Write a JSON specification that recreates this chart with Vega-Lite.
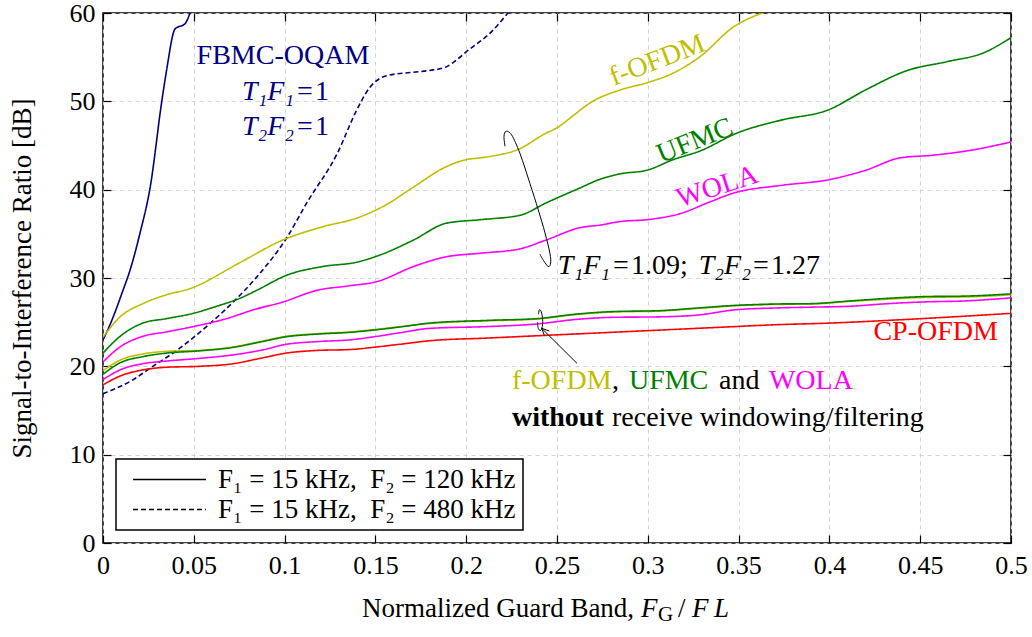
{
  "$schema": "https://vega.github.io/schema/vega-lite/v6.json",
  "width": 908,
  "height": 530,
  "autosize": {"type": "none"},
  "padding": {"left": 103, "top": 13, "right": 21, "bottom": 94},
  "background": "white",
  "config": {
    "font": "Liberation Serif, Times New Roman, serif",
    "view": {"stroke": "black", "strokeWidth": 1.5},
    "axis": {
      "labelFont": "Liberation Serif, Times New Roman, serif",
      "titleFont": "Liberation Serif, Times New Roman, serif",
      "labelColor": "black",
      "titleColor": "black",
      "tickColor": "black",
      "titleFontWeight": "normal",
      "domain": false
    },
    "text": {"font": "Liberation Serif, Times New Roman, serif", "fontSize": 28}
  },
  "datasets": {
    "curves": [
      {"waveform": "FBMC-OQAM", "receiver": "filtered", "config": "120 kHz", "gb": 0, "sir": 23.0},
      {"waveform": "FBMC-OQAM", "receiver": "filtered", "config": "120 kHz", "gb": 0.003, "sir": 24.3},
      {"waveform": "FBMC-OQAM", "receiver": "filtered", "config": "120 kHz", "gb": 0.011, "sir": 28.6},
      {"waveform": "FBMC-OQAM", "receiver": "filtered", "config": "120 kHz", "gb": 0.0149, "sir": 30.9},
      {"waveform": "FBMC-OQAM", "receiver": "filtered", "config": "120 kHz", "gb": 0.0204, "sir": 35.1},
      {"waveform": "FBMC-OQAM", "receiver": "filtered", "config": "120 kHz", "gb": 0.026, "sir": 40.3},
      {"waveform": "FBMC-OQAM", "receiver": "filtered", "config": "120 kHz", "gb": 0.0325, "sir": 50.2},
      {"waveform": "FBMC-OQAM", "receiver": "filtered", "config": "120 kHz", "gb": 0.035, "sir": 53.5},
      {"waveform": "FBMC-OQAM", "receiver": "filtered", "config": "120 kHz", "gb": 0.0397, "sir": 58.2},
      {"waveform": "FBMC-OQAM", "receiver": "filtered", "config": "120 kHz", "gb": 0.0452, "sir": 58.8},
      {"waveform": "FBMC-OQAM", "receiver": "filtered", "config": "120 kHz", "gb": 0.0479, "sir": 60.0},

      {"waveform": "FBMC-OQAM", "receiver": "filtered", "config": "480 kHz", "gb": 0, "sir": 16.9},
      {"waveform": "FBMC-OQAM", "receiver": "filtered", "config": "480 kHz", "gb": 0.0167, "sir": 18.5},
      {"waveform": "FBMC-OQAM", "receiver": "filtered", "config": "480 kHz", "gb": 0.026, "sir": 19.8},
      {"waveform": "FBMC-OQAM", "receiver": "filtered", "config": "480 kHz", "gb": 0.0406, "sir": 21.8},
      {"waveform": "FBMC-OQAM", "receiver": "filtered", "config": "480 kHz", "gb": 0.057, "sir": 24.5},
      {"waveform": "FBMC-OQAM", "receiver": "filtered", "config": "480 kHz", "gb": 0.0718, "sir": 27.3},
      {"waveform": "FBMC-OQAM", "receiver": "filtered", "config": "480 kHz", "gb": 0.0846, "sir": 30.1},
      {"waveform": "FBMC-OQAM", "receiver": "filtered", "config": "480 kHz", "gb": 0.101, "sir": 34.5},
      {"waveform": "FBMC-OQAM", "receiver": "filtered", "config": "480 kHz", "gb": 0.1122, "sir": 38.5},
      {"waveform": "FBMC-OQAM", "receiver": "filtered", "config": "480 kHz", "gb": 0.129, "sir": 44.1},
      {"waveform": "FBMC-OQAM", "receiver": "filtered", "config": "480 kHz", "gb": 0.1397, "sir": 49.0},
      {"waveform": "FBMC-OQAM", "receiver": "filtered", "config": "480 kHz", "gb": 0.147, "sir": 51.6},
      {"waveform": "FBMC-OQAM", "receiver": "filtered", "config": "480 kHz", "gb": 0.1525, "sir": 52.6},
      {"waveform": "FBMC-OQAM", "receiver": "filtered", "config": "480 kHz", "gb": 0.156, "sir": 52.9},
      {"waveform": "FBMC-OQAM", "receiver": "filtered", "config": "480 kHz", "gb": 0.171, "sir": 53.3},
      {"waveform": "FBMC-OQAM", "receiver": "filtered", "config": "480 kHz", "gb": 0.18, "sir": 53.5},
      {"waveform": "FBMC-OQAM", "receiver": "filtered", "config": "480 kHz", "gb": 0.189, "sir": 53.9},
      {"waveform": "FBMC-OQAM", "receiver": "filtered", "config": "480 kHz", "gb": 0.1948, "sir": 54.7},
      {"waveform": "FBMC-OQAM", "receiver": "filtered", "config": "480 kHz", "gb": 0.2, "sir": 55.6},
      {"waveform": "FBMC-OQAM", "receiver": "filtered", "config": "480 kHz", "gb": 0.213, "sir": 57.7},
      {"waveform": "FBMC-OQAM", "receiver": "filtered", "config": "480 kHz", "gb": 0.223, "sir": 60.0},

      {"waveform": "f-OFDM", "receiver": "filtered", "config": "120 kHz", "gb": 0, "sir": 23.3},
      {"waveform": "f-OFDM", "receiver": "filtered", "config": "120 kHz", "gb": 0.0094, "sir": 25.6},
      {"waveform": "f-OFDM", "receiver": "filtered", "config": "120 kHz", "gb": 0.022, "sir": 27.1},
      {"waveform": "f-OFDM", "receiver": "filtered", "config": "120 kHz", "gb": 0.035, "sir": 28.1},
      {"waveform": "f-OFDM", "receiver": "filtered", "config": "120 kHz", "gb": 0.048, "sir": 28.8},
      {"waveform": "f-OFDM", "receiver": "filtered", "config": "120 kHz", "gb": 0.075, "sir": 31.7},
      {"waveform": "f-OFDM", "receiver": "filtered", "config": "120 kHz", "gb": 0.099, "sir": 34.3},
      {"waveform": "f-OFDM", "receiver": "filtered", "config": "120 kHz", "gb": 0.121, "sir": 35.8},
      {"waveform": "f-OFDM", "receiver": "filtered", "config": "120 kHz", "gb": 0.14, "sir": 36.8},
      {"waveform": "f-OFDM", "receiver": "filtered", "config": "120 kHz", "gb": 0.156, "sir": 38.3},
      {"waveform": "f-OFDM", "receiver": "filtered", "config": "120 kHz", "gb": 0.171, "sir": 40.3},
      {"waveform": "f-OFDM", "receiver": "filtered", "config": "120 kHz", "gb": 0.189, "sir": 42.6},
      {"waveform": "f-OFDM", "receiver": "filtered", "config": "120 kHz", "gb": 0.2, "sir": 43.4},
      {"waveform": "f-OFDM", "receiver": "filtered", "config": "120 kHz", "gb": 0.2076, "sir": 43.6},
      {"waveform": "f-OFDM", "receiver": "filtered", "config": "120 kHz", "gb": 0.217, "sir": 43.9},
      {"waveform": "f-OFDM", "receiver": "filtered", "config": "120 kHz", "gb": 0.228, "sir": 44.5},
      {"waveform": "f-OFDM", "receiver": "filtered", "config": "120 kHz", "gb": 0.244, "sir": 46.4},
      {"waveform": "f-OFDM", "receiver": "filtered", "config": "120 kHz", "gb": 0.25, "sir": 47.0},
      {"waveform": "f-OFDM", "receiver": "filtered", "config": "120 kHz", "gb": 0.259, "sir": 48.4},
      {"waveform": "f-OFDM", "receiver": "filtered", "config": "120 kHz", "gb": 0.268, "sir": 49.8},
      {"waveform": "f-OFDM", "receiver": "filtered", "config": "120 kHz", "gb": 0.285, "sir": 51.3},
      {"waveform": "f-OFDM", "receiver": "filtered", "config": "120 kHz", "gb": 0.2995, "sir": 52.1},
      {"waveform": "f-OFDM", "receiver": "filtered", "config": "120 kHz", "gb": 0.314, "sir": 53.2},
      {"waveform": "f-OFDM", "receiver": "filtered", "config": "120 kHz", "gb": 0.329, "sir": 55.1},
      {"waveform": "f-OFDM", "receiver": "filtered", "config": "120 kHz", "gb": 0.347, "sir": 58.4},
      {"waveform": "f-OFDM", "receiver": "filtered", "config": "120 kHz", "gb": 0.363, "sir": 60.0},

      {"waveform": "UFMC", "receiver": "filtered", "config": "120 kHz", "gb": 0, "sir": 21.5},
      {"waveform": "UFMC", "receiver": "filtered", "config": "120 kHz", "gb": 0.0094, "sir": 23.4},
      {"waveform": "UFMC", "receiver": "filtered", "config": "120 kHz", "gb": 0.022, "sir": 24.9},
      {"waveform": "UFMC", "receiver": "filtered", "config": "120 kHz", "gb": 0.035, "sir": 25.4},
      {"waveform": "UFMC", "receiver": "filtered", "config": "120 kHz", "gb": 0.0497, "sir": 26.0},
      {"waveform": "UFMC", "receiver": "filtered", "config": "120 kHz", "gb": 0.0626, "sir": 26.8},
      {"waveform": "UFMC", "receiver": "filtered", "config": "120 kHz", "gb": 0.0754, "sir": 27.7},
      {"waveform": "UFMC", "receiver": "filtered", "config": "120 kHz", "gb": 0.0846, "sir": 28.6},
      {"waveform": "UFMC", "receiver": "filtered", "config": "120 kHz", "gb": 0.101, "sir": 30.3},
      {"waveform": "UFMC", "receiver": "filtered", "config": "120 kHz", "gb": 0.121, "sir": 31.3},
      {"waveform": "UFMC", "receiver": "filtered", "config": "120 kHz", "gb": 0.14, "sir": 31.8},
      {"waveform": "UFMC", "receiver": "filtered", "config": "120 kHz", "gb": 0.1525, "sir": 32.6},
      {"waveform": "UFMC", "receiver": "filtered", "config": "120 kHz", "gb": 0.171, "sir": 34.3},
      {"waveform": "UFMC", "receiver": "filtered", "config": "120 kHz", "gb": 0.189, "sir": 36.2},
      {"waveform": "UFMC", "receiver": "filtered", "config": "120 kHz", "gb": 0.2076, "sir": 36.6},
      {"waveform": "UFMC", "receiver": "filtered", "config": "120 kHz", "gb": 0.2296, "sir": 37.1},
      {"waveform": "UFMC", "receiver": "filtered", "config": "120 kHz", "gb": 0.244, "sir": 38.5},
      {"waveform": "UFMC", "receiver": "filtered", "config": "120 kHz", "gb": 0.2627, "sir": 40.2},
      {"waveform": "UFMC", "receiver": "filtered", "config": "120 kHz", "gb": 0.274, "sir": 41.2},
      {"waveform": "UFMC", "receiver": "filtered", "config": "120 kHz", "gb": 0.285, "sir": 41.8},
      {"waveform": "UFMC", "receiver": "filtered", "config": "120 kHz", "gb": 0.2995, "sir": 42.2},
      {"waveform": "UFMC", "receiver": "filtered", "config": "120 kHz", "gb": 0.314, "sir": 43.4},
      {"waveform": "UFMC", "receiver": "filtered", "config": "120 kHz", "gb": 0.329, "sir": 44.4},
      {"waveform": "UFMC", "receiver": "filtered", "config": "120 kHz", "gb": 0.349, "sir": 46.4},
      {"waveform": "UFMC", "receiver": "filtered", "config": "120 kHz", "gb": 0.374, "sir": 47.9},
      {"waveform": "UFMC", "receiver": "filtered", "config": "120 kHz", "gb": 0.399, "sir": 49.0},
      {"waveform": "UFMC", "receiver": "filtered", "config": "120 kHz", "gb": 0.42, "sir": 51.3},
      {"waveform": "UFMC", "receiver": "filtered", "config": "120 kHz", "gb": 0.443, "sir": 53.5},
      {"waveform": "UFMC", "receiver": "filtered", "config": "120 kHz", "gb": 0.465, "sir": 54.5},
      {"waveform": "UFMC", "receiver": "filtered", "config": "120 kHz", "gb": 0.485, "sir": 55.5},
      {"waveform": "UFMC", "receiver": "filtered", "config": "120 kHz", "gb": 0.5, "sir": 57.2},

      {"waveform": "WOLA", "receiver": "filtered", "config": "120 kHz", "gb": 0, "sir": 20.5},
      {"waveform": "WOLA", "receiver": "filtered", "config": "120 kHz", "gb": 0.0094, "sir": 22.2},
      {"waveform": "WOLA", "receiver": "filtered", "config": "120 kHz", "gb": 0.022, "sir": 23.4},
      {"waveform": "WOLA", "receiver": "filtered", "config": "120 kHz", "gb": 0.035, "sir": 23.9},
      {"waveform": "WOLA", "receiver": "filtered", "config": "120 kHz", "gb": 0.0497, "sir": 24.5},
      {"waveform": "WOLA", "receiver": "filtered", "config": "120 kHz", "gb": 0.068, "sir": 25.4},
      {"waveform": "WOLA", "receiver": "filtered", "config": "120 kHz", "gb": 0.0828, "sir": 26.4},
      {"waveform": "WOLA", "receiver": "filtered", "config": "120 kHz", "gb": 0.0993, "sir": 27.3},
      {"waveform": "WOLA", "receiver": "filtered", "config": "120 kHz", "gb": 0.1177, "sir": 28.6},
      {"waveform": "WOLA", "receiver": "filtered", "config": "120 kHz", "gb": 0.135, "sir": 29.1},
      {"waveform": "WOLA", "receiver": "filtered", "config": "120 kHz", "gb": 0.151, "sir": 29.6},
      {"waveform": "WOLA", "receiver": "filtered", "config": "120 kHz", "gb": 0.171, "sir": 31.3},
      {"waveform": "WOLA", "receiver": "filtered", "config": "120 kHz", "gb": 0.189, "sir": 32.4},
      {"waveform": "WOLA", "receiver": "filtered", "config": "120 kHz", "gb": 0.2076, "sir": 32.8},
      {"waveform": "WOLA", "receiver": "filtered", "config": "120 kHz", "gb": 0.2296, "sir": 33.3},
      {"waveform": "WOLA", "receiver": "filtered", "config": "120 kHz", "gb": 0.244, "sir": 34.3},
      {"waveform": "WOLA", "receiver": "filtered", "config": "120 kHz", "gb": 0.2627, "sir": 35.7},
      {"waveform": "WOLA", "receiver": "filtered", "config": "120 kHz", "gb": 0.274, "sir": 36.0},
      {"waveform": "WOLA", "receiver": "filtered", "config": "120 kHz", "gb": 0.285, "sir": 36.4},
      {"waveform": "WOLA", "receiver": "filtered", "config": "120 kHz", "gb": 0.2995, "sir": 36.6},
      {"waveform": "WOLA", "receiver": "filtered", "config": "120 kHz", "gb": 0.318, "sir": 37.3},
      {"waveform": "WOLA", "receiver": "filtered", "config": "120 kHz", "gb": 0.334, "sir": 38.6},
      {"waveform": "WOLA", "receiver": "filtered", "config": "120 kHz", "gb": 0.347, "sir": 39.6},
      {"waveform": "WOLA", "receiver": "filtered", "config": "120 kHz", "gb": 0.374, "sir": 40.5},
      {"waveform": "WOLA", "receiver": "filtered", "config": "120 kHz", "gb": 0.399, "sir": 41.1},
      {"waveform": "WOLA", "receiver": "filtered", "config": "120 kHz", "gb": 0.42, "sir": 42.2},
      {"waveform": "WOLA", "receiver": "filtered", "config": "120 kHz", "gb": 0.439, "sir": 43.6},
      {"waveform": "WOLA", "receiver": "filtered", "config": "120 kHz", "gb": 0.457, "sir": 43.9},
      {"waveform": "WOLA", "receiver": "filtered", "config": "120 kHz", "gb": 0.479, "sir": 44.5},
      {"waveform": "WOLA", "receiver": "filtered", "config": "120 kHz", "gb": 0.5, "sir": 45.4},

      {"waveform": "f-OFDM", "receiver": "plain", "config": "120 kHz", "gb": 0, "sir": 19.5},
      {"waveform": "f-OFDM", "receiver": "plain", "config": "120 kHz", "gb": 0.0094, "sir": 20.7},
      {"waveform": "f-OFDM", "receiver": "plain", "config": "120 kHz", "gb": 0.022, "sir": 21.4},
      {"waveform": "f-OFDM", "receiver": "plain", "config": "120 kHz", "gb": 0.035, "sir": 21.7},
      {"waveform": "f-OFDM", "receiver": "plain", "config": "120 kHz", "gb": 0.053, "sir": 21.8},
      {"waveform": "f-OFDM", "receiver": "plain", "config": "120 kHz", "gb": 0.0718, "sir": 22.2},
      {"waveform": "f-OFDM", "receiver": "plain", "config": "120 kHz", "gb": 0.0865, "sir": 22.8},
      {"waveform": "f-OFDM", "receiver": "plain", "config": "120 kHz", "gb": 0.101, "sir": 23.4},
      {"waveform": "f-OFDM", "receiver": "plain", "config": "120 kHz", "gb": 0.118, "sir": 23.7},
      {"waveform": "f-OFDM", "receiver": "plain", "config": "120 kHz", "gb": 0.136, "sir": 23.9},
      {"waveform": "f-OFDM", "receiver": "plain", "config": "120 kHz", "gb": 0.151, "sir": 24.2},
      {"waveform": "f-OFDM", "receiver": "plain", "config": "120 kHz", "gb": 0.1635, "sir": 24.5},
      {"waveform": "f-OFDM", "receiver": "plain", "config": "120 kHz", "gb": 0.18, "sir": 24.85},
      {"waveform": "f-OFDM", "receiver": "plain", "config": "120 kHz", "gb": 0.2116, "sir": 25.15},
      {"waveform": "f-OFDM", "receiver": "plain", "config": "120 kHz", "gb": 0.2389, "sir": 25.35},
      {"waveform": "f-OFDM", "receiver": "plain", "config": "120 kHz", "gb": 0.26, "sir": 25.85},
      {"waveform": "f-OFDM", "receiver": "plain", "config": "120 kHz", "gb": 0.281, "sir": 26.15},
      {"waveform": "f-OFDM", "receiver": "plain", "config": "120 kHz", "gb": 0.3062, "sir": 26.25},
      {"waveform": "f-OFDM", "receiver": "plain", "config": "120 kHz", "gb": 0.3272, "sir": 26.55},
      {"waveform": "f-OFDM", "receiver": "plain", "config": "120 kHz", "gb": 0.3482, "sir": 26.85},
      {"waveform": "f-OFDM", "receiver": "plain", "config": "120 kHz", "gb": 0.3692, "sir": 27.0},
      {"waveform": "f-OFDM", "receiver": "plain", "config": "120 kHz", "gb": 0.3902, "sir": 27.05},
      {"waveform": "f-OFDM", "receiver": "plain", "config": "120 kHz", "gb": 0.4112, "sir": 27.35},
      {"waveform": "f-OFDM", "receiver": "plain", "config": "120 kHz", "gb": 0.4323, "sir": 27.6},
      {"waveform": "f-OFDM", "receiver": "plain", "config": "120 kHz", "gb": 0.4533, "sir": 27.8},
      {"waveform": "f-OFDM", "receiver": "plain", "config": "120 kHz", "gb": 0.4743, "sir": 27.85},
      {"waveform": "f-OFDM", "receiver": "plain", "config": "120 kHz", "gb": 0.5, "sir": 28.1},

      {"waveform": "UFMC", "receiver": "plain", "config": "120 kHz", "gb": 0, "sir": 19.1},
      {"waveform": "UFMC", "receiver": "plain", "config": "120 kHz", "gb": 0.0094, "sir": 20.4},
      {"waveform": "UFMC", "receiver": "plain", "config": "120 kHz", "gb": 0.022, "sir": 21.1},
      {"waveform": "UFMC", "receiver": "plain", "config": "120 kHz", "gb": 0.035, "sir": 21.5},
      {"waveform": "UFMC", "receiver": "plain", "config": "120 kHz", "gb": 0.053, "sir": 21.75},
      {"waveform": "UFMC", "receiver": "plain", "config": "120 kHz", "gb": 0.0718, "sir": 22.15},
      {"waveform": "UFMC", "receiver": "plain", "config": "120 kHz", "gb": 0.0865, "sir": 22.75},
      {"waveform": "UFMC", "receiver": "plain", "config": "120 kHz", "gb": 0.101, "sir": 23.35},
      {"waveform": "UFMC", "receiver": "plain", "config": "120 kHz", "gb": 0.118, "sir": 23.65},
      {"waveform": "UFMC", "receiver": "plain", "config": "120 kHz", "gb": 0.136, "sir": 23.85},
      {"waveform": "UFMC", "receiver": "plain", "config": "120 kHz", "gb": 0.151, "sir": 24.15},
      {"waveform": "UFMC", "receiver": "plain", "config": "120 kHz", "gb": 0.1635, "sir": 24.45},
      {"waveform": "UFMC", "receiver": "plain", "config": "120 kHz", "gb": 0.18, "sir": 24.9},
      {"waveform": "UFMC", "receiver": "plain", "config": "120 kHz", "gb": 0.2116, "sir": 25.2},
      {"waveform": "UFMC", "receiver": "plain", "config": "120 kHz", "gb": 0.2389, "sir": 25.4},
      {"waveform": "UFMC", "receiver": "plain", "config": "120 kHz", "gb": 0.26, "sir": 25.9},
      {"waveform": "UFMC", "receiver": "plain", "config": "120 kHz", "gb": 0.281, "sir": 26.2},
      {"waveform": "UFMC", "receiver": "plain", "config": "120 kHz", "gb": 0.3062, "sir": 26.3},
      {"waveform": "UFMC", "receiver": "plain", "config": "120 kHz", "gb": 0.3272, "sir": 26.6},
      {"waveform": "UFMC", "receiver": "plain", "config": "120 kHz", "gb": 0.3482, "sir": 26.9},
      {"waveform": "UFMC", "receiver": "plain", "config": "120 kHz", "gb": 0.3692, "sir": 27.05},
      {"waveform": "UFMC", "receiver": "plain", "config": "120 kHz", "gb": 0.3902, "sir": 27.1},
      {"waveform": "UFMC", "receiver": "plain", "config": "120 kHz", "gb": 0.4112, "sir": 27.4},
      {"waveform": "UFMC", "receiver": "plain", "config": "120 kHz", "gb": 0.4323, "sir": 27.7},
      {"waveform": "UFMC", "receiver": "plain", "config": "120 kHz", "gb": 0.4533, "sir": 27.9},
      {"waveform": "UFMC", "receiver": "plain", "config": "120 kHz", "gb": 0.4743, "sir": 27.95},
      {"waveform": "UFMC", "receiver": "plain", "config": "120 kHz", "gb": 0.5, "sir": 28.2},

      {"waveform": "WOLA", "receiver": "plain", "config": "120 kHz", "gb": 0, "sir": 18.5},
      {"waveform": "WOLA", "receiver": "plain", "config": "120 kHz", "gb": 0.0094, "sir": 19.6},
      {"waveform": "WOLA", "receiver": "plain", "config": "120 kHz", "gb": 0.022, "sir": 20.3},
      {"waveform": "WOLA", "receiver": "plain", "config": "120 kHz", "gb": 0.035, "sir": 20.6},
      {"waveform": "WOLA", "receiver": "plain", "config": "120 kHz", "gb": 0.053, "sir": 20.9},
      {"waveform": "WOLA", "receiver": "plain", "config": "120 kHz", "gb": 0.0718, "sir": 21.3},
      {"waveform": "WOLA", "receiver": "plain", "config": "120 kHz", "gb": 0.0865, "sir": 21.8},
      {"waveform": "WOLA", "receiver": "plain", "config": "120 kHz", "gb": 0.101, "sir": 22.5},
      {"waveform": "WOLA", "receiver": "plain", "config": "120 kHz", "gb": 0.118, "sir": 22.8},
      {"waveform": "WOLA", "receiver": "plain", "config": "120 kHz", "gb": 0.136, "sir": 23.0},
      {"waveform": "WOLA", "receiver": "plain", "config": "120 kHz", "gb": 0.151, "sir": 23.4},
      {"waveform": "WOLA", "receiver": "plain", "config": "120 kHz", "gb": 0.1635, "sir": 23.8},
      {"waveform": "WOLA", "receiver": "plain", "config": "120 kHz", "gb": 0.18, "sir": 24.3},
      {"waveform": "WOLA", "receiver": "plain", "config": "120 kHz", "gb": 0.2116, "sir": 24.5},
      {"waveform": "WOLA", "receiver": "plain", "config": "120 kHz", "gb": 0.2389, "sir": 24.8},
      {"waveform": "WOLA", "receiver": "plain", "config": "120 kHz", "gb": 0.26, "sir": 25.3},
      {"waveform": "WOLA", "receiver": "plain", "config": "120 kHz", "gb": 0.281, "sir": 25.55},
      {"waveform": "WOLA", "receiver": "plain", "config": "120 kHz", "gb": 0.3062, "sir": 25.6},
      {"waveform": "WOLA", "receiver": "plain", "config": "120 kHz", "gb": 0.3272, "sir": 25.8},
      {"waveform": "WOLA", "receiver": "plain", "config": "120 kHz", "gb": 0.3482, "sir": 26.4},
      {"waveform": "WOLA", "receiver": "plain", "config": "120 kHz", "gb": 0.3692, "sir": 26.6},
      {"waveform": "WOLA", "receiver": "plain", "config": "120 kHz", "gb": 0.3902, "sir": 26.7},
      {"waveform": "WOLA", "receiver": "plain", "config": "120 kHz", "gb": 0.4112, "sir": 26.8},
      {"waveform": "WOLA", "receiver": "plain", "config": "120 kHz", "gb": 0.4323, "sir": 27.1},
      {"waveform": "WOLA", "receiver": "plain", "config": "120 kHz", "gb": 0.4533, "sir": 27.3},
      {"waveform": "WOLA", "receiver": "plain", "config": "120 kHz", "gb": 0.4743, "sir": 27.4},
      {"waveform": "WOLA", "receiver": "plain", "config": "120 kHz", "gb": 0.5, "sir": 27.75},

      {"waveform": "CP-OFDM", "receiver": "plain", "config": "120 kHz", "gb": 0, "sir": 17.9},
      {"waveform": "CP-OFDM", "receiver": "plain", "config": "120 kHz", "gb": 0.0094, "sir": 18.9},
      {"waveform": "CP-OFDM", "receiver": "plain", "config": "120 kHz", "gb": 0.022, "sir": 19.6},
      {"waveform": "CP-OFDM", "receiver": "plain", "config": "120 kHz", "gb": 0.035, "sir": 19.9},
      {"waveform": "CP-OFDM", "receiver": "plain", "config": "120 kHz", "gb": 0.053, "sir": 20.0},
      {"waveform": "CP-OFDM", "receiver": "plain", "config": "120 kHz", "gb": 0.0718, "sir": 20.3},
      {"waveform": "CP-OFDM", "receiver": "plain", "config": "120 kHz", "gb": 0.0865, "sir": 20.9},
      {"waveform": "CP-OFDM", "receiver": "plain", "config": "120 kHz", "gb": 0.101, "sir": 21.5},
      {"waveform": "CP-OFDM", "receiver": "plain", "config": "120 kHz", "gb": 0.118, "sir": 21.8},
      {"waveform": "CP-OFDM", "receiver": "plain", "config": "120 kHz", "gb": 0.136, "sir": 21.9},
      {"waveform": "CP-OFDM", "receiver": "plain", "config": "120 kHz", "gb": 0.151, "sir": 22.2},
      {"waveform": "CP-OFDM", "receiver": "plain", "config": "120 kHz", "gb": 0.1635, "sir": 22.5},
      {"waveform": "CP-OFDM", "receiver": "plain", "config": "120 kHz", "gb": 0.18, "sir": 22.9},
      {"waveform": "CP-OFDM", "receiver": "plain", "config": "120 kHz", "gb": 0.2116, "sir": 23.2},
      {"waveform": "CP-OFDM", "receiver": "plain", "config": "120 kHz", "gb": 0.2431, "sir": 23.5},
      {"waveform": "CP-OFDM", "receiver": "plain", "config": "120 kHz", "gb": 0.2747, "sir": 23.8},
      {"waveform": "CP-OFDM", "receiver": "plain", "config": "120 kHz", "gb": 0.3062, "sir": 24.1},
      {"waveform": "CP-OFDM", "receiver": "plain", "config": "120 kHz", "gb": 0.3377, "sir": 24.4},
      {"waveform": "CP-OFDM", "receiver": "plain", "config": "120 kHz", "gb": 0.3692, "sir": 24.7},
      {"waveform": "CP-OFDM", "receiver": "plain", "config": "120 kHz", "gb": 0.4008, "sir": 24.9},
      {"waveform": "CP-OFDM", "receiver": "plain", "config": "120 kHz", "gb": 0.4323, "sir": 25.2},
      {"waveform": "CP-OFDM", "receiver": "plain", "config": "120 kHz", "gb": 0.4638, "sir": 25.55},
      {"waveform": "CP-OFDM", "receiver": "plain", "config": "120 kHz", "gb": 0.5, "sir": 26.0}
    ],
    "shapes": [
      {"part": "ring", "i": 1, "gb": 0.2214, "sir": 44.9},
      {"part": "ring", "i": 2, "gb": 0.2208, "sir": 46.0},
      {"part": "ring", "i": 3, "gb": 0.2219, "sir": 46.6},
      {"part": "ring", "i": 4, "gb": 0.225, "sir": 46.2},
      {"part": "ring", "i": 5, "gb": 0.2296, "sir": 44.1},
      {"part": "ring", "i": 6, "gb": 0.2351, "sir": 40.7},
      {"part": "ring", "i": 7, "gb": 0.2397, "sir": 37.7},
      {"part": "ring", "i": 8, "gb": 0.2434, "sir": 35.1},
      {"part": "ring", "i": 9, "gb": 0.2461, "sir": 32.8},
      {"part": "ring", "i": 10, "gb": 0.2465, "sir": 31.7},
      {"part": "ring", "i": 11, "gb": 0.2452, "sir": 31.3},
      {"part": "ring", "i": 12, "gb": 0.2425, "sir": 32.0},
      {"part": "ring", "i": 13, "gb": 0.2406, "sir": 32.7},
      {"part": "ring2", "i": 1, "gb": 0.2398, "sir": 25.9},
      {"part": "ring2", "i": 2, "gb": 0.2403, "sir": 26.4},
      {"part": "ring2", "i": 3, "gb": 0.2413, "sir": 26.2},
      {"part": "ring2", "i": 4, "gb": 0.2421, "sir": 25.3},
      {"part": "ring2", "i": 5, "gb": 0.2419, "sir": 24.5},
      {"part": "ring2", "i": 6, "gb": 0.2409, "sir": 24.05},
      {"part": "ring2", "i": 7, "gb": 0.2397, "sir": 24.3},
      {"part": "ring2", "i": 8, "gb": 0.2392, "sir": 25.0},
      {"part": "shaft", "i": 1, "gb": 0.261, "sir": 20.34},
      {"part": "shaft", "i": 2, "gb": 0.2416, "sir": 24.3},
      {"part": "head", "i": 1, "gb": 0.2431, "sir": 23.45},
      {"part": "head", "i": 2, "gb": 0.2416, "sir": 24.3},
      {"part": "head", "i": 3, "gb": 0.2458, "sir": 24.0}
    ],
    "centerLabels": [
      {"label": "FBMC-OQAM", "waveform": "FBMC-OQAM", "gb": 0.0991, "sir": 55.15},
      {"label": "CP-OFDM", "waveform": "CP-OFDM", "gb": 0.4585, "sir": 23.9}
    ],
    "slopedLabels": [
      {"label": "f-OFDM", "waveform": "f-OFDM", "gb": 0.3053, "sir": 54.6},
      {"label": "UFMC", "waveform": "UFMC", "gb": 0.326, "sir": 45.5},
      {"label": "WOLA", "waveform": "WOLA", "gb": 0.3383, "sir": 40.3}
    ],
    "mathItalic": [
      {"label": "T₁F₁", "waveform": "FBMC-OQAM", "gb": 0.1052, "sir": 51.05},
      {"label": "T₂F₂", "waveform": "FBMC-OQAM", "gb": 0.1052, "sir": 47.1},
      {"label": "T₁F₁", "waveform": "note", "gb": 0.2792, "sir": 31.4},
      {"label": "T₂F₂", "waveform": "note", "gb": 0.3568, "sir": 31.4}
    ],
    "mathUpright": [
      {"label": "=\u200a1", "waveform": "FBMC-OQAM", "gb": 0.1068, "sir": 51.05},
      {"label": "=\u200a1", "waveform": "FBMC-OQAM", "gb": 0.1068, "sir": 47.1},
      {"label": "=\u200a1.09;", "waveform": "note", "gb": 0.2808, "sir": 31.4},
      {"label": "=\u200a1.27", "waveform": "note", "gb": 0.3579, "sir": 31.4}
    ],
    "noteText": [
      {"label": "f-OFDM", "waveform": "f-OFDM", "gb": 0.2252, "sir": 18.3},
      {"label": ",", "waveform": "note", "gb": 0.2803, "sir": 18.3},
      {"label": "UFMC", "waveform": "UFMC", "gb": 0.2896, "sir": 18.3},
      {"label": "and", "waveform": "note", "gb": 0.3392, "sir": 18.3},
      {"label": "WOLA", "waveform": "WOLA", "gb": 0.3667, "sir": 18.3},
      {"label": "receive windowing/filtering", "waveform": "note", "gb": 0.2803, "sir": 14.2}
    ],
    "noteBold": [
      {"label": "without", "gb": 0.2252, "sir": 14.2}
    ],
    "xTitleUpright": [
      {"label": "Normalized Guard Band,", "gb": 0.1426, "sir": -8.38},
      {"label": "/", "gb": 0.3166, "sir": -8.38}
    ],
    "xTitleItalic": [
      {"label": "F", "gb": 0.2963, "sir": -8.38},
      {"label": "F\u2009L", "gb": 0.3244, "sir": -8.38}
    ],
    "xTitleSub": [
      {"label": "G", "gb": 0.3056, "sir": -8.85}
    ]
  },
  "encoding": {
    "x": {"field": "gb", "type": "quantitative", "scale": {"domain": [0, 0.5], "nice": false, "zero": false}, "axis": null},
    "y": {"field": "sir", "type": "quantitative", "scale": {"domain": [0, 60], "nice": false}, "axis": null}
  },
  "layer": [
    {
      "data": {"name": "curves"},
      "mark": {"type": "line", "clip": true, "strokeWidth": 1.6, "interpolate": "monotone"},
      "encoding": {
        "x": {
          "field": "gb", "type": "quantitative",
          "scale": {"domain": [0, 0.5], "nice": false, "zero": false},
          "axis": {
            "orient": "bottom", "title": null,
            "values": [0, 0.05, 0.1, 0.15, 0.2, 0.25, 0.3, 0.35, 0.4, 0.45, 0.5],
            "format": "~g", "labelFontSize": 26, "labelPadding": 17, "labelFlush": false, "labelOverlap": false,
            "tickSize": -8, "tickWidth": 1.2,
            "grid": true, "gridDash": [4, 4], "gridColor": "#d3d3d3", "gridWidth": 1
          }
        },
        "y": {
          "field": "sir", "type": "quantitative",
          "scale": {"domain": [0, 60], "nice": false},
          "axis": {
            "orient": "left", "title": "Signal-to-Interference Ratio [dB]",
            "titleFontSize": 27, "titlePadding": 33,
            "values": [0, 10, 20, 30, 40, 50, 60],
            "labelFontSize": 26, "labelPadding": 16, "labelFlush": false, "labelOverlap": false,
            "tickSize": -8, "tickWidth": 1.2,
            "grid": true, "gridDash": [4, 4], "gridColor": "#d3d3d3", "gridWidth": 1
          }
        },
        "color": {
          "field": "waveform", "type": "nominal", "legend": null,
          "scale": {"domain": ["FBMC-OQAM", "f-OFDM", "UFMC", "WOLA", "CP-OFDM", "note"], "range": ["#000080", "#bfbf00", "#008000", "#ff00ff", "#ff0000", "#000000"]}
        },
        "strokeDash": {
          "field": "config", "type": "nominal",
          "scale": {"domain": ["120 kHz", "480 kHz"], "range": [[1, 0], [5, 3]]},
          "legend": {
            "title": null, "orient": "bottom-left", "offset": 13,
            "labelExpr": "'F₁ = 15 kHz,\u2002F₂ = ' + datum.label",
            "labelFont": "Liberation Serif, Times New Roman, serif", "labelFontSize": 27, "labelColor": "black", "labelLimit": 600, "labelOffset": 35,
            "symbolType": "M-3,0H3", "symbolSize": 590, "symbolOffset": 33, "symbolStrokeWidth": 1.3, "symbolStrokeColor": "black",
            "strokeColor": "black", "fillColor": "white", "padding": 7, "rowPadding": 2,
            "encode": {
              "symbols": {"update": {"stroke": {"value": "black"}}},
              "legend": {"update": {"strokeWidth": {"value": 1.5}}}
            }
          }
        },
        "detail": {"field": "receiver"}
      }
    },
    {
      "data": {"name": "shapes"},
      "transform": [{"filter": {"field": "part", "oneOf": ["ring", "ring2"]}}],
      "mark": {"type": "line", "interpolate": "cardinal", "color": "black", "strokeWidth": 1},
      "encoding": {
        "x": {
          "field": "gb", "type": "quantitative",
          "scale": {"domain": [0, 0.5], "nice": false, "zero": false},
          "axis": {"orient": "top", "title": null, "labels": false, "grid": false,
                   "values": [0, 0.05, 0.1, 0.15, 0.2, 0.25, 0.3, 0.35, 0.4, 0.45, 0.5],
                   "tickSize": -8, "tickWidth": 1.2}
        },
        "y": {
          "field": "sir", "type": "quantitative",
          "scale": {"domain": [0, 60], "nice": false},
          "axis": {"orient": "right", "title": null, "labels": false, "grid": false,
                   "values": [0, 10, 20, 30, 40, 50, 60],
                   "tickSize": -8, "tickWidth": 1.2}
        },
        "detail": {"field": "part"},
        "order": {"field": "i", "type": "quantitative"}
      }
    },
    {
      "data": {"name": "shapes"},
      "transform": [{"filter": {"field": "part", "oneOf": ["shaft", "head"]}}],
      "mark": {"type": "line", "color": "black", "strokeWidth": 1},
      "encoding": {
        "detail": {"field": "part"},
        "order": {"field": "i", "type": "quantitative"}
      }
    },
    {
      "data": {"name": "centerLabels"},
      "mark": {"type": "text", "fontSize": 28, "align": "center", "baseline": "middle"},
      "encoding": {
        "text": {"field": "label"},
        "color": {"field": "waveform", "type": "nominal", "legend": null,
                  "scale": {"domain": ["FBMC-OQAM", "f-OFDM", "UFMC", "WOLA", "CP-OFDM", "note"], "range": ["#000080", "#bfbf00", "#008000", "#ff00ff", "#ff0000", "#000000"]}}
      }
    },
    {
      "data": {"name": "slopedLabels"},
      "transform": [{"filter": "datum.waveform == 'f-OFDM'"}],
      "mark": {"type": "text", "fontSize": 28, "align": "center", "baseline": "middle", "angle": -21, "color": "#bfbf00"},
      "encoding": {"text": {"field": "label"}}
    },
    {
      "data": {"name": "slopedLabels"},
      "transform": [{"filter": "datum.waveform == 'UFMC'"}],
      "mark": {"type": "text", "fontSize": 28, "align": "center", "baseline": "middle", "angle": -22, "color": "#008000"},
      "encoding": {"text": {"field": "label"}}
    },
    {
      "data": {"name": "slopedLabels"},
      "transform": [{"filter": "datum.waveform == 'WOLA'"}],
      "mark": {"type": "text", "fontSize": 28, "align": "center", "baseline": "middle", "angle": -18, "color": "#ff00ff"},
      "encoding": {"text": {"field": "label"}}
    },
    {
      "data": {"name": "mathItalic"},
      "mark": {"type": "text", "fontSize": 28, "fontStyle": "italic", "align": "right", "baseline": "middle"},
      "encoding": {
        "text": {"field": "label"},
        "color": {"field": "waveform", "type": "nominal", "legend": null,
                  "scale": {"domain": ["FBMC-OQAM", "f-OFDM", "UFMC", "WOLA", "CP-OFDM", "note"], "range": ["#000080", "#bfbf00", "#008000", "#ff00ff", "#ff0000", "#000000"]}}
      }
    },
    {
      "data": {"name": "mathUpright"},
      "mark": {"type": "text", "fontSize": 28, "align": "left", "baseline": "middle"},
      "encoding": {
        "text": {"field": "label"},
        "color": {"field": "waveform", "type": "nominal", "legend": null,
                  "scale": {"domain": ["FBMC-OQAM", "f-OFDM", "UFMC", "WOLA", "CP-OFDM", "note"], "range": ["#000080", "#bfbf00", "#008000", "#ff00ff", "#ff0000", "#000000"]}}
      }
    },
    {
      "data": {"name": "noteText"},
      "mark": {"type": "text", "fontSize": 28, "align": "left", "baseline": "middle"},
      "encoding": {
        "text": {"field": "label"},
        "color": {"field": "waveform", "type": "nominal", "legend": null,
                  "scale": {"domain": ["FBMC-OQAM", "f-OFDM", "UFMC", "WOLA", "CP-OFDM", "note"], "range": ["#000080", "#bfbf00", "#008000", "#ff00ff", "#ff0000", "#000000"]}}
      }
    },
    {
      "data": {"name": "noteBold"},
      "mark": {"type": "text", "fontSize": 28, "fontWeight": "bold", "align": "left", "baseline": "middle", "color": "black"},
      "encoding": {"text": {"field": "label"}}
    },
    {
      "data": {"name": "xTitleUpright"},
      "mark": {"type": "text", "fontSize": 27, "align": "left", "baseline": "alphabetic", "color": "black"},
      "encoding": {"text": {"field": "label"}}
    },
    {
      "data": {"name": "xTitleItalic"},
      "mark": {"type": "text", "fontSize": 27, "fontStyle": "italic", "align": "left", "baseline": "alphabetic", "color": "black"},
      "encoding": {"text": {"field": "label"}}
    },
    {
      "data": {"name": "xTitleSub"},
      "mark": {"type": "text", "fontSize": 21, "align": "left", "baseline": "alphabetic", "color": "black"},
      "encoding": {"text": {"field": "label"}}
    }
  ],
  "resolve": {"axis": {"x": "independent", "y": "independent"}}
}
